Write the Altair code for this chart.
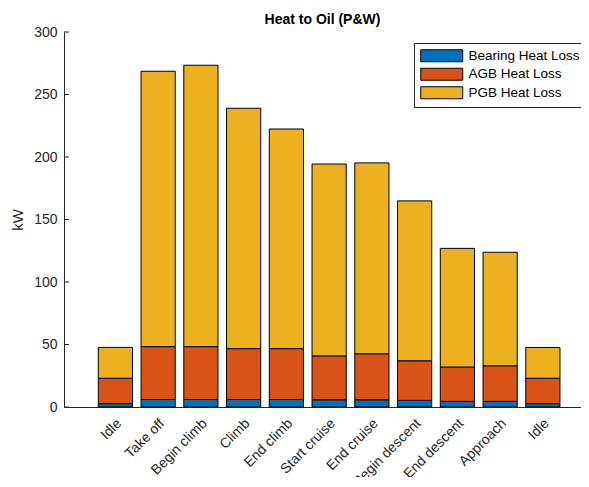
import altair as alt
import pandas as pd

phases = ["Idle", "Take off", "Begin climb", "Climb", "End climb", "Start cruise",
          "End cruise", "Begin descent", "End descent", "Approach", "Idle"]
bearing = [2.7, 6.0, 6.0, 6.0, 6.0, 5.8, 5.8, 5.3, 4.5, 4.5, 2.7]
agb = [20.3, 42.3, 42.3, 40.7, 40.7, 35.1, 36.8, 31.7, 27.5, 28.5, 20.3]
pgb = [24.7, 220.3, 225.1, 192.3, 175.7, 153.5, 152.7, 127.9, 94.9, 90.8, 24.6]
series = ["Bearing Heat Loss", "AGB Heat Loss", "PGB Heat Loss"]
colors = ["#0072BD", "#D95319", "#EDB120"]
y_ticks = [0, 50, 100, 150, 200, 250, 300]

rows = []
for i, ph in enumerate(phases):
    for k, (name, vals) in enumerate(zip(series, [bearing, agb, pgb])):
        rows.append({"idx": i, "phase": ph, "series": name, "ord": k, "value": vals[i]})
df = pd.DataFrame(rows)

label_expr = "[" + ",".join("'" + p + "'" for p in phases) + "][datum.value]"

FONT = "Liberation Sans"
AX = "#262626"

bars = alt.Chart(df).mark_bar(stroke="black", strokeWidth=1).encode(
    x=alt.X("idx:O", sort=list(range(len(phases))),
            scale=alt.Scale(paddingInner=0.2, paddingOuter=0.647, align=0.62),
            axis=alt.Axis(title=None, labelExpr=label_expr, labelAngle=-45,
                          labelAlign="right", labelBaseline="middle",
                          labelPadding=14, labelOffset=4, tickSize=0, ticks=False,
                          labelFontSize=14, labelColor=AX, domainColor=AX,
                          labelFont=FONT, grid=False)),
    y=alt.Y("value:Q", stack="zero",
            scale=alt.Scale(domain=[0, 300], nice=False),
            axis=alt.Axis(title="kW", values=y_ticks, ticks=False, labelPadding=7,
                          labelFontSize=14, labelColor=AX, domainColor=AX,
                          titleFontSize=15, titleFontWeight="normal", titleColor=AX,
                          titleFont=FONT, labelFont=FONT, titlePadding=8, grid=False)),
    color=alt.Color("series:N", sort=series,
                    scale=alt.Scale(domain=series, range=colors),
                    legend=alt.Legend(title=None, orient="none", legendX=350, legendY=11,
                                      symbolType="M-3.5,-1L3.5,-1L3.5,1L-3.5,1Z",
                                      symbolSize=144, symbolStrokeColor="black",
                                      symbolStrokeWidth=1, symbolOpacity=1,
                                      symbolOffset=15, labelOffset=20,
                                      labelFontSize=13.5, labelFont=FONT, labelColor="black",
                                      rowPadding=1.5, padding=6, strokeColor=AX,
                                      fillColor="white")),
    order=alt.Order("ord:Q"),
)

tick_df = pd.DataFrame({"t": y_ticks})
yticks = alt.Chart(tick_df).mark_rule(color=AX, strokeWidth=1).encode(
    y="t:Q", x=alt.value(0), x2=alt.value(5)
)

chart = alt.layer(bars, yticks).properties(
    width=517, height=375,
    title=alt.TitleParams("Heat to Oil (P&W)", fontSize=14, font=FONT, fontWeight="bold",
                          color="black", anchor="middle", frame="group", offset=5, dy=7),
    autosize=alt.AutoSizeParams(type="none"),
    padding={"left": 56, "top": 24, "right": 0, "bottom": 70},
).configure_view(stroke=None)

chart.save("out.html", embed_options={"renderer": "svg", "actions": False})
